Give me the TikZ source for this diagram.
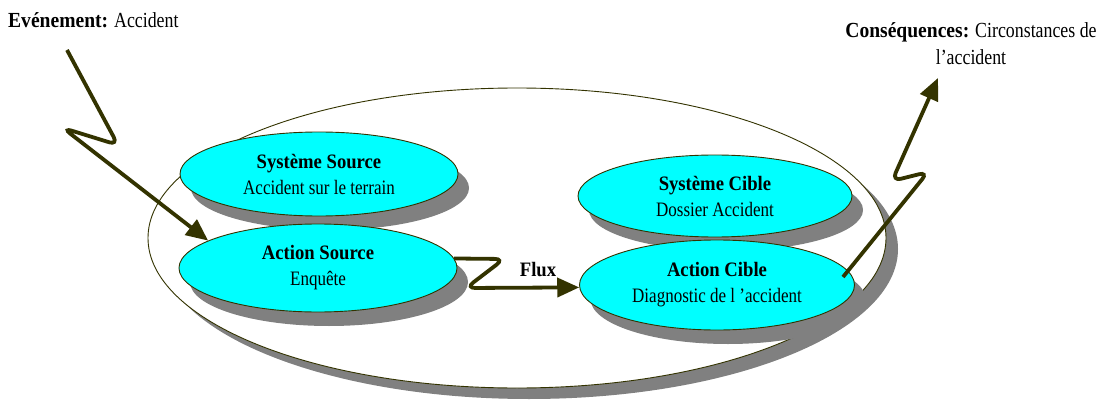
\documentclass[tikz,border=0pt]{standalone}
\usepackage{fontspec}
\setmainfont{Liberation Serif}[FakeStretch=0.83]
\newfontfamily\bdfam{Liberation Serif}[FakeStretch=0.91]
\newcommand{\B}[1]{{\bdfam\bfseries #1}}
\usetikzlibrary{shapes.geometric,shadows,arrows.meta}
\definecolor{olive}{HTML}{333300}
\definecolor{cyanfill}{HTML}{00FFFF}
\definecolor{shadowgray}{HTML}{808080}
\tikzset{
  bigell/.style={ellipse, draw=olive, line width=0.9pt, fill=white, inner sep=0pt,
    minimum width=738pt, minimum height=300pt,
    drop shadow={shadow xshift=12pt, shadow yshift=-11pt, fill=shadowgray, opacity=1}},
  smallell/.style={ellipse, draw=olive, line width=0.9pt, fill=cyanfill, inner sep=0pt,
    align=center, font=\fontsize{20.5}{26}\selectfont,
    drop shadow={shadow xshift=11pt, shadow yshift=-14pt, fill=shadowgray, opacity=1}},
  label/.style={font=\fontsize{21.5}{27}\selectfont, inner sep=0pt, align=center},
  flow/.style={draw=olive, line width=3.8pt, rounded corners=9pt,
    -{Triangle[length=22pt,width=19pt]}, color=olive}
}
\begin{document}
\begin{tikzpicture}[x=1pt,y=-1pt]
\useasboundingbox (0,0) rectangle (1103,401);
\node[bigell] (sys) at (517,238) {};
\node[smallell, minimum width=278pt, minimum height=84pt] (ss) at (319,174)
  {\B{Système Source}\\Accident sur le terrain};
\node[smallell, minimum width=278pt, minimum height=88pt] (as) at (318,268)
  {\B{Action Source}\\Enquête};
\node[smallell, minimum width=274pt, minimum height=82pt] (sc) at (715,196)
  {\B{Système Cible}\\Dossier Accident};
\node[smallell, minimum width=275pt, minimum height=90pt] (ac) at (717,285)
  {\B{Action Cible}\\Diagnostic de l 'accident};
\node[label, anchor=west] (ev) at (8,20) {\B{Evénement:} Accident};
\node[label] (cons) at (971,44) {\B{Conséquences:} Circonstances de\\l'accident};
\node[font=\fontsize{20.5}{26}\selectfont, inner sep=0pt] (flux) at (538,270) {\B{Flux}};
\coordinate (evs) at (67,50);
\coordinate (evt) at (as.166);
\coordinate (cs) at (843,277);
\coordinate (ct) at (938,78);
\draw[flow] (evs) -- (118,145) -- (63,128) -- (evt);
\draw[flow] (as.4) -- (504,259) -- (466,288) -- (ac.181);
\draw[flow] (cs) -- (928,172) -- (892,181) -- (ct);
\end{tikzpicture}
\end{document}
